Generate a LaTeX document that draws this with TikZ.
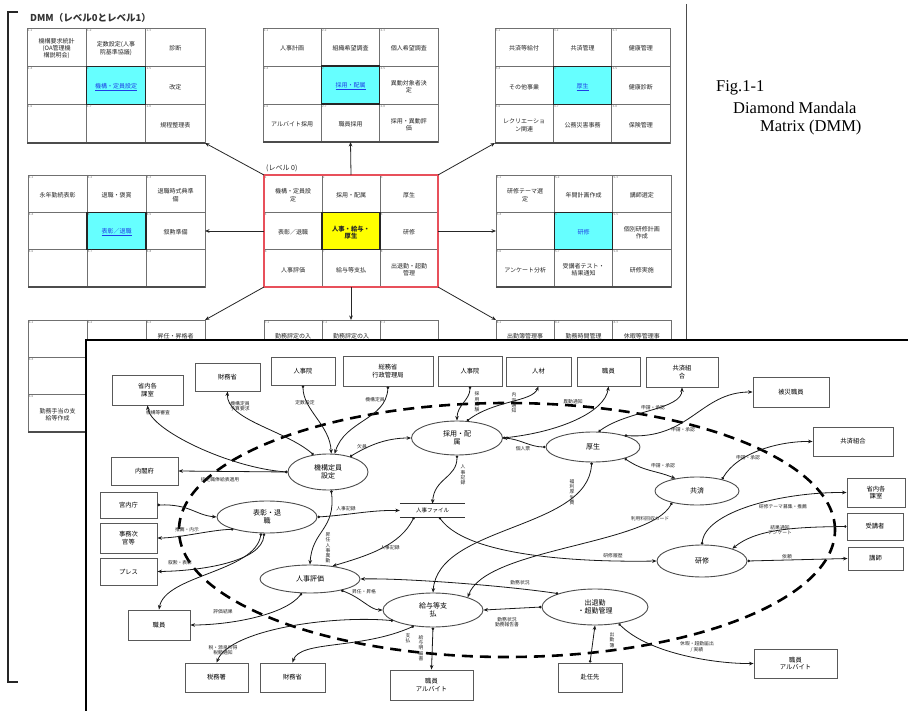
\documentclass[tikz,border=0pt]{standalone}
\usepackage{fontspec}
\setmainfont{Liberation Serif}
\newfontfamily\jp{Noto Sans CJK JP}
\usetikzlibrary{arrows.meta,shapes.geometric,calc}
\definecolor{cyanfill}{HTML}{66FFFF}
\definecolor{redframe}{HTML}{E8505B}
\definecolor{linkblue}{HTML}{1E3FE6}
\definecolor{gridgray}{HTML}{707070}
\definecolor{yel}{HTML}{FFFF00}
\tikzset{
  ct/.style={font=\jp\fontsize{6}{7.2}\selectfont, align=center, inner sep=0.5pt, text=black!85},
  num/.style={font=\jp\fontsize{3}{3}\selectfont, anchor=north west, inner sep=0.7pt, text=black!55},
  link/.style={ct, text=linkblue},
  gridl/.style={draw=gridgray, line width=0.7},
  marrow/.style={draw=black!85, line width=0.8, -{Stealth[length=4.5pt,width=3.6pt]}},
  box/.style={draw=black!65, line width=0.9, fill=white, inner sep=0, align=center, font=\jp\fontsize{6.3}{7.4}\selectfont},
  ell/.style={ellipse, draw=black!70, line width=0.9, fill=white, inner sep=0, align=center, font=\jp\fontsize{7}{8.4}\selectfont},
  conn/.style={draw=black!90, line width=0.8, {Circle[length=2.6pt]}-{Stealth[length=4.5pt,width=3.6pt]}},
  lbl/.style={font=\jp\fontsize{4.8}{5.3}\selectfont, inner sep=0.3pt, align=center, text=black!85},
  figcap/.style={font=\fontsize{16.5}{18}\selectfont, anchor=west, inner sep=0},
}
% #1 name, #2 x0, #3 y0, #4 x1, #5 y1, #6 centre fill, #7 prefix, #8 centre number
\newcommand\dmm[8]{%
  \pgfmathsetmacro\dw{(#4-#2)/3}%
  \pgfmathsetmacro\dh{(#5-#3)/3}%
  \coordinate (#1-nw) at (#2,#3);
  \coordinate (#1-ne) at (#4,#3);
  \coordinate (#1-sw) at (#2,#5);
  \coordinate (#1-se) at (#4,#5);
  \coordinate (#1-n) at ({(#2+#4)/2},#3);
  \coordinate (#1-s) at ({(#2+#4)/2},#5);
  \coordinate (#1-w) at (#2,{(#3+#5)/2});
  \coordinate (#1-e) at (#4,{(#3+#5)/2});
  \foreach \r in {1,2,3}{\foreach \c in {1,2,3}{%
     \coordinate (#1-\r\c) at ({#2+(\c-0.5)*\dw},{#3+(\r-0.5)*\dh+1.5});
  }}
  \fill[#6] ({#2+\dw},{#3+\dh}) rectangle ({#2+2*\dw},{#3+2*\dh});
  \draw[gridl] (#2,#3) rectangle (#4,#5);
  \draw[gridl] ({#2+\dw},#3) -- ({#2+\dw},#5) ({#2+2*\dw},#3) -- ({#2+2*\dw},#5)
               (#2,{#3+\dh}) -- (#4,{#3+\dh}) (#2,{#3+2*\dh}) -- (#4,{#3+2*\dh});
  \draw[black!85, line width=1.1] ({#2+\dw},{#3+\dh}) rectangle ({#2+2*\dw},{#3+2*\dh});
  \draw[black!70, line width=1.1] (#2,#5) -- (#4,#5);
  \foreach \r in {1,2,3}{\foreach \c in {1,2,3}{%
     \pgfmathtruncatemacro\k{(\r-1)*3+\c}%
     \pgfmathtruncatemacro\kk{\k>5 ? \k-1 : \k}%
     \ifnum\k=5
       \node[num] (#1-n\r\c) at ({#2+(\c-1)*\dw},{#3+(\r-1)*\dh}) {#8};
     \else
       \node[num] (#1-n\r\c) at ({#2+(\c-1)*\dw},{#3+(\r-1)*\dh}) {#7\kk};
     \fi
  }}
}
\begin{document}
\begin{tikzpicture}[x=1pt,y=-1pt]
\useasboundingbox (0,0) rectangle (908,711);
\fill[white] (0,0) rectangle (908,711);

% ---------------- DMM frame ----------------
\draw[black!85, line width=1.1] (18,12) -- (8,12) -- (8,682) -- (18,682);
\draw[black!70, line width=0.9] (686,4) -- (686,340);
\node[font=\jp\bfseries\fontsize{9.5}{10}\selectfont, anchor=west, inner sep=0, text=black!80] (title) at (30,18) {DMM（レベル0とレベル1）};

% ---------------- matrices ----------------
\dmm{TL}{27}{28}{205}{143}{cyanfill}{1-}{1}
\node[ct] (TLt11) at (TL-11) {機構要求統計\\(OA管理機\\構説明会)};
\node[ct] (TLt12) at (TL-12) {定数設定(人事\\院基準協議)};
\node[ct] (TLt13) at (TL-13) {診断};
\node[link] (TLt22) at (TL-22) {\underline{機構・定員設定}};
\node[ct] (TLt23) at (TL-23) {改定};
\node[ct] (TLt33) at (TL-33) {規程整理表};

\dmm{TC}{263}{28}{438}{142}{cyanfill}{2-}{2}
\node[ct] (TCt11) at (TC-11) {人事計画};
\node[ct] (TCt12) at (TC-12) {組織希望調査};
\node[ct] (TCt13) at (TC-13) {個人希望調査};
\node[link] (TCt22) at (TC-22) {\underline{採用・配属}};
\node[ct] (TCt23) at (TC-23) {異動対象者決\\定};
\node[ct] (TCt31) at (TC-31) {アルバイト採用};
\node[ct] (TCt32) at (TC-32) {職員採用};
\node[ct] (TCt33) at (TC-33) {採用・異動評\\価};

\dmm{TR}{495}{28}{670}{143}{cyanfill}{3-}{3}
\node[ct] (TRt11) at (TR-11) {共済等給付};
\node[ct] (TRt12) at (TR-12) {共済管理};
\node[ct] (TRt13) at (TR-13) {健康管理};
\node[ct] (TRt21) at (TR-21) {その他事業};
\node[link] (TRt22) at (TR-22) {\underline{厚生}};
\node[ct] (TRt23) at (TR-23) {健康診断};
\node[ct] (TRt31) at (TR-31) {レクリエーショ\\ン関連};
\node[ct] (TRt32) at (TR-32) {公務災害事務};
\node[ct] (TRt33) at (TR-33) {保険管理};

\dmm{ML}{28}{175}{205}{287}{cyanfill}{4-}{4}
\node[ct] (MLt11) at (ML-11) {永年勤続表彰};
\node[ct] (MLt12) at (ML-12) {退職・褒賞};
\node[ct] (MLt13) at (ML-13) {退職時式典準\\備};
\node[link] (MLt22) at (ML-22) {\underline{表彰／退職}};
\node[ct] (MLt23) at (ML-23) {叙勲準備};

\dmm{MR}{496}{175}{671}{287}{cyanfill}{5-}{5}
\node[ct] (MRt11) at (MR-11) {研修テーマ選\\定};
\node[ct] (MRt12) at (MR-12) {年間計画作成};
\node[ct] (MRt13) at (MR-13) {講師選定};
\node[link] (MRt22) at (MR-22) {研修};
\node[ct] (MRt23) at (MR-23) {個別研修計画\\作成};
\node[ct] (MRt31) at (MR-31) {アンケート分析};
\node[ct] (MRt32) at (MR-32) {受講者テスト・\\結果通知};
\node[ct] (MRt33) at (MR-33) {研修実施};

\dmm{C}{264}{175}{438}{287}{yel}{}{}
\draw[redframe, line width=1.8] (C-nw) rectangle (C-se);
\node[font=\jp\fontsize{7}{8}\selectfont, anchor=west, inner sep=0, text=black!85] (lv0) at (266,168) {(レベル 0)};
\node[ct] (Ct11) at (C-11) {機構・定員設\\定};
\node[ct] (Ct12) at (C-12) {採用・配属};
\node[ct] (Ct13) at (C-13) {厚生};
\node[ct] (Ct21) at (C-21) {表彰／退職};
\node[ct, font=\jp\bfseries\fontsize{6.3}{7.5}\selectfont] (Ct22) at (C-22) {人事・給与・\\厚生};
\node[ct] (Ct23) at (C-23) {研修};
\node[ct] (Ct31) at (C-31) {人事評価};
\node[ct] (Ct32) at (C-32) {給与等支払};
\node[ct] (Ct33) at (C-33) {出退勤・超勤\\管理};

\dmm{BL}{28}{320}{205}{432}{cyanfill}{6-}{6}
\node[ct] (BLt13) at (BL-13) {昇任・昇格者\\決定};
\node[ct] (BLt31) at (BL-31) {勤務手当の支\\給等作成};
\dmm{BC}{264}{320}{438}{432}{cyanfill}{7-}{7}
\node[ct] (BCt11) at (BC-11) {勤務評定の入\\力};
\node[ct] (BCt12) at (BC-12) {勤務評定の入\\力};
\dmm{BR}{496}{320}{671}{432}{cyanfill}{8-}{8}
\node[ct] (BRt11) at (BR-11) {出勤簿管理事\\務};
\node[ct] (BRt12) at (BR-12) {勤務時間管理\\事務};
\node[ct] (BRt13) at (BR-13) {休暇等管理事\\務};

% arrows from centre matrix
\draw[marrow] (C-nw) -- (TL-se);
\draw[marrow] (C-n) -- (TC-s);
\draw[marrow] (C-ne) -- (TR-sw);
\draw[marrow] (C-w) -- (ML-e);
\draw[marrow] (C-e) -- (MR-w);
\draw[marrow] (C-sw) -- (BL-ne);
\draw[marrow] (C-s) -- (BC-n);
\draw[marrow] (C-se) -- (BR-nw);

% Fig caption
\node[figcap] (fig1) at (716,88) {Fig.1-1};
\node[figcap] (fig2) at (733,108) {Diamond Mandala};
\node[figcap] (fig3) at (760,128) {Matrix (DMM)};

% ---------------- lower panel ----------------
\draw[black, line width=1.3, fill=white] (86,340) rectangle (915,720);

% dashed boundary
\draw[black, line width=2.6, dash pattern=on 11pt off 7pt] (507,530) ellipse [x radius=328pt, y radius=127pt];

% boxes
\node[box, minimum width=71, minimum height=30] (b1) at (147.5,390) {省内各\\課室};
\node[box, minimum width=65, minimum height=28] (b2) at (227.5,377) {財務省};
\node[box, minimum width=64, minimum height=28] (b3) at (303,371) {人事院};
\node[box, minimum width=90, minimum height=30] (b4) at (388,371) {総務省\\行政管理局};
\node[box, minimum width=64, minimum height=30] (b5) at (470,371) {人事院};
\node[box, minimum width=65, minimum height=29] (b6) at (538.5,371.5) {人材};
\node[box, minimum width=63, minimum height=29] (b7) at (608.5,371.5) {職員};
\node[box, minimum width=72, minimum height=30] (b8) at (682,372) {共済組\\合};
\node[box, minimum width=76, minimum height=30] (b9) at (791,392) {被災職員};
\node[box, minimum width=80, minimum height=29] (b10) at (853,441.5) {共済組合};
\node[box, minimum width=58, minimum height=29] (b11) at (876,492.5) {省内各\\課室};
\node[box, minimum width=56, minimum height=27] (b12) at (875,526.5) {受講者};
\node[box, minimum width=55, minimum height=23] (b13) at (875.5,558.5) {講師};
\node[box, minimum width=83, minimum height=29] (b14) at (795.5,663.5) {職員\\アルバイト};
\node[box, minimum width=67, minimum height=28] (b15) at (144.5,471) {内閣府};
\node[box, minimum width=57, minimum height=26] (b16) at (128.5,505) {宮内庁};
\node[box, minimum width=57, minimum height=30] (b17) at (128.5,538) {事務次\\官等};
\node[box, minimum width=57, minimum height=27] (b18) at (128.5,571.5) {プレス};
\node[box, minimum width=62, minimum height=30] (b19) at (159,625) {職員};
\node[box, minimum width=63, minimum height=29] (b20) at (216.5,677.5) {税務署};
\node[box, minimum width=65, minimum height=29] (b21) at (292.5,677.5) {財務省};
\node[box, minimum width=83, minimum height=30] (b22) at (431.5,685) {職員\\アルバイト};
\node[box, minimum width=64, minimum height=29] (b23) at (590,677.5) {赴任先};

% ellipses
\node[ell, minimum width=80, minimum height=36] (e1) at (328,472) {機構定員\\設定};
\node[ell, minimum width=91, minimum height=34] (e2) at (457,438) {採用・配\\属};
\node[ell, minimum width=94, minimum height=30] (e3) at (593,447) {厚生};
\node[ell, minimum width=84, minimum height=28] (e4) at (697,491) {共済};
\node[ell, minimum width=90, minimum height=32] (e5) at (702,561) {研修};
\node[ell, minimum width=106, minimum height=36] (e6) at (595,607) {出退勤\\・超勤管理};
\node[ell, minimum width=100, minimum height=34] (e7) at (433,610) {給与等支\\払};
\node[ell, minimum width=100, minimum height=28] (e8) at (310,579) {人事評価};
\node[ell, minimum width=100, minimum height=32] (e9) at (267,517) {表彰・退\\職};

% data store
\node[font=\jp\fontsize{5.5}{6}\selectfont, minimum width=65, minimum height=13, inner sep=0] (df) at (432.5,510.5) {人事ファイル};
\draw[black!80, line width=0.8] (df.north west) -- (df.north east) (df.south west) -- (df.south east);

% connectors
\draw[conn] (e1.west) .. controls (230,468) and (150,430) .. (b1.south);
\draw[conn] (e1.130) .. controls (285,430) and (226,420) .. (b2.south);
\draw[conn] (b3.south) .. controls (303,410) and (330,425) .. (e1.80);
\draw[conn] (b4.south) .. controls (386,420) and (345,420) .. (e1.70);
\draw[conn] (e1.west) -- (b15.east);
\draw[conn] (e1.35) .. controls (368,446) and (385,438) .. (e2.west);
\draw[conn] (b5.south) .. controls (470,400) and (457,405) .. (e2.north);
\draw[conn] (e2.60) .. controls (495,400) and (532,402) .. (b6.south);
\draw[conn] (e2.east) .. controls (560,432) and (605,412) .. (b7.south);
\draw[conn] (e3.west) .. controls (530,447) and (520,439) .. (e2.east);
\draw[conn] (e2.south) .. controls (457,478) and (434,478) .. (df.north);
\draw[conn] (e3.70) .. controls (628,410) and (682,410) .. (b8.south);
\draw[conn] (e3.20) .. controls (690,440) and (700,392) .. (b9.west);
\draw[conn] (e3.-20) .. controls (645,472) and (655,470) .. (e4.150);
\draw[conn] (e4.25) .. controls (738,452) and (780,441) .. (b10.west);
\draw[conn] (e5.north) .. controls (705,512) and (780,492) .. (b11.west);
\draw[conn] (b12.west) .. controls (790,527) and (755,530) .. (e5.22);
\draw[conn] (e5.east) -- (b13.west);
\draw[conn] (e4.205) .. controls (650,545) and (485,548) .. (e7.20);
\draw[conn] (df.-45) .. controls (470,560) and (600,562) .. (e5.west);
\draw[conn] (e3.-95) .. controls (588,530) and (438,525) .. (e7.north);
\draw[conn] (e6.160) .. controls (500,585) and (400,578) .. (e8.east);
\draw[conn] (e6.west) -- (e7.east);
\draw[conn] (b23.north) -- (e6.south);
\draw[conn] (e6.-35) .. controls (650,655) and (720,664) .. (b14.west);
\draw[conn] (e7.south) -- (b22.north);
\draw[conn] (e7.-140) .. controls (360,650) and (300,640) .. (b21.north);
\draw[conn] (e7.195) .. controls (330,615) and (230,630) .. (b20.north);
\draw[conn] (e8.-20) .. controls (362,598) and (370,610) .. (e7.west);
\draw[conn] (e8.-120) .. controls (285,615) and (230,625) .. (b19.east);
\draw[conn] (e9.-110) .. controls (255,572) and (165,575) .. (b19.north);
\draw[conn] (e9.-100) .. controls (262,562) and (200,571) .. (b18.east);
\draw[conn] (e9.200) .. controls (210,530) and (180,538) .. (b17.east);
\draw[conn] (b16.east) .. controls (190,504) and (195,515) .. (e9.west);
\draw[conn] (e1.-80) .. controls (336,530) and (312,530) .. (e8.north);
\draw[conn] (e9.east) .. controls (350,515) and (370,510) .. (df.west);
\draw[conn] (df.-160) .. controls (400,545) and (370,555) .. (e8.30);

% labels
\node[lbl] (l1) at (158,413) {機構等審査};
\node[lbl] (l2) at (240,406) {機構定員\\予算要求};
\node[lbl] (l3) at (305,403) {定数設定};
\node[lbl] (l4) at (375,400) {機構定員};
\node[lbl] (l5) at (220,480) {指定職俸給表適用};
\node[lbl] (l6) at (362,447) {欠員};
\node[lbl] (l7) at (477,402) {採\\用\\試\\験};
\node[lbl] (l8) at (514,403) {内\\定\\通\\知};
\node[lbl] (l9) at (573,402) {異動通知};
\node[lbl] (l10) at (523,449) {個人票};
\node[lbl] (l11) at (463,475) {人\\事\\記\\録};
\node[lbl] (l12) at (653,408) {申請・承認};
\node[lbl] (l13) at (683,430) {申請・承認};
\node[lbl] (l14) at (663,466) {申請・承認};
\node[lbl] (l15) at (748,458) {申請・承認};
\node[lbl] (l16) at (783,507) {研修テーマ募集・推薦};
\node[lbl] (l17) at (780,530) {結果通知\\アンケート};
\node[lbl] (l18) at (787,557) {依頼};
\node[lbl] (l19) at (613,556) {研修履歴};
\node[lbl] (l20) at (650,519) {利用料回収カード};
\node[lbl] (l21) at (572,492) {福\\利\\厚\\生\\費};
\node[lbl] (l22) at (520,583) {勤務状況};
\node[lbl] (l23) at (507,622) {勤務状況\\勤務報告書};
\node[lbl] (l24) at (612,640) {出\\勤\\簿};
\node[lbl] (l25) at (697,647) {休暇・超勤届出\\/ 実績};
\node[lbl] (l26) at (408,638) {支\\払};
\node[lbl] (l27) at (421,648) {給\\与\\明\\細\\書};
\node[lbl] (l28) at (223,650) {税・源泉所得\\税額通知};
\node[lbl] (l29) at (364,592) {昇任・昇格};
\node[lbl] (l30) at (223,612) {評価結果};
\node[lbl] (l31) at (180,563) {叙勲・表彰};
\node[lbl] (l32) at (187,530) {推薦・内示};
\node[lbl] (l33) at (328,548) {昇\\任\\人\\事\\異\\動};
\node[lbl] (l34) at (346,509) {人事記録};
\node[lbl] (l35) at (390,548) {人事記録};
\end{tikzpicture}
\end{document}
